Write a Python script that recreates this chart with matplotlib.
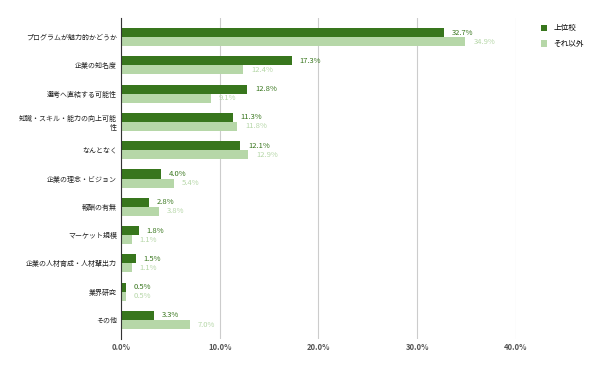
import numpy as np
import matplotlib.pyplot as plt

plt.rcParams['font.family'] = ['Noto Sans CJK JP', 'DejaVu Sans']

categories = ["プログラムが魅力的かどうか", "企業の知名度", "選考へ直結する可能性",
              "知識・スキル・能力の向上可能\n性", "なんとなく", "企業の理念・ビジョン",
              "報酬の有無", "マーケット規模", "企業の人材育成・人材輩出力", "業界研究", "その他"]
top_school = [32.7, 17.3, 12.8, 11.3, 12.1, 4.0, 2.8, 1.8, 1.5, 0.5, 3.3]
others = [34.9, 12.4, 9.1, 11.8, 12.9, 5.4, 3.8, 1.1, 1.1, 0.5, 7.0]
series_names = ["上位校", "それ以外"]
xticks = [0, 10, 20, 30, 40]

dark = "#38761d"
light = "#b6d7a8"

fig = plt.figure(figsize=(6, 3.71), dpi=100)
ax = fig.add_axes([0.2017, 0.0863, 0.658, 0.865])

y = np.arange(len(categories))
h = 0.32
ax.barh(y - h / 2, top_school, height=h, color=dark, label=series_names[0], zorder=3)
ax.barh(y + h / 2, others, height=h, color=light, label=series_names[1], zorder=3)

for i in range(len(categories)):
    ax.text(top_school[i] + 0.8, y[i] - h / 2, f"{top_school[i]:.1f}%", va="center",
            ha="left", fontsize=5.5, color=dark)
    ax.text(others[i] + 0.8, y[i] + h / 2, f"{others[i]:.1f}%", va="center",
            ha="left", fontsize=5.5, color=light)

ax.set_xlim(0, 40)
ax.set_ylim(len(categories) - 1 + 0.67, -0.67)
ax.set_yticks(y)
ax.set_yticklabels(categories, fontsize=5, color="#222222")
ax.set_xticks(xticks)
ax.set_xticklabels([f"{v:.1f}%" for v in xticks], fontsize=5.5, color="#555555",
                   fontweight="bold")
ax.tick_params(axis="y", length=0, pad=3)
ax.tick_params(axis="x", length=0, pad=3)
ax.grid(axis="x", color="#cccccc", linewidth=0.8, zorder=0)
for s in ["top", "right", "bottom"]:
    ax.spines[s].set_visible(False)
ax.spines["left"].set_color("#333333")
ax.spines["left"].set_linewidth(0.8)
ax.spines["left"].set_zorder(4)

ax.legend(loc="upper left", bbox_to_anchor=(1.055, 0.99), frameon=False, fontsize=5.5,
          handlelength=0.9, handleheight=0.9, labelspacing=1.0, borderaxespad=0)

fig.savefig("out.png", dpi=100)
